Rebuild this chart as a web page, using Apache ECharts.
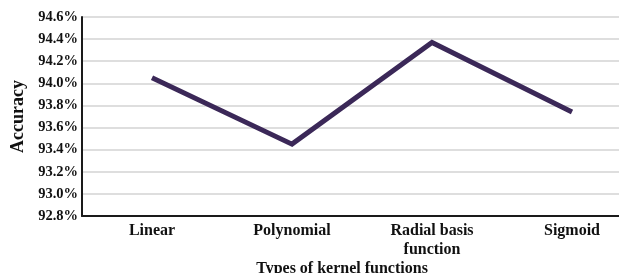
<!DOCTYPE html>
<html><head><meta charset="utf-8">
<script src="https://cdn.jsdelivr.net/npm/echarts@6/dist/echarts.min.js"></script>
<style>html,body{margin:0;padding:0;background:#fff;}#c{width:619px;height:273px;}</style>
</head><body><div id="c"></div>
<script>
var categories = ['Linear', 'Polynomial', 'Radial basis\nfunction', 'Sigmoid'];
var accuracy = [94.05, 93.45, 94.37, 93.74];
var yMin = 92.8, yMax = 94.6, yStep = 0.2;
var xTitle = 'Types of kernel functions';
var yTitle = 'Accuracy';

var font = '"Liberation Serif", "DejaVu Serif", serif';
var chart = echarts.init(document.getElementById('c'));
chart.setOption({
  animation: false,
  backgroundColor: '#fff',
  grid: {left: 82, right: -23, top: 17, bottom: 57, outerBoundsMode: 'none', containLabel: false},
  xAxis: {
    type: 'category', data: categories, boundaryGap: true,
    axisLine: {lineStyle: {color: '#1a1a1a', width: 2}},
    axisTick: {show: false},
    axisLabel: {color: '#111', fontFamily: font, fontWeight: 'bold', fontSize: 16, margin: 5, lineHeight: 19, interval: 0}
  },
  yAxis: {
    type: 'value', min: yMin, max: yMax, interval: yStep,
    name: yTitle, nameLocation: 'middle', nameGap: 55,
    nameTextStyle: {color: '#111', fontFamily: font, fontWeight: 'bold', fontSize: 18},
    axisLine: {show: true, lineStyle: {color: '#1a1a1a', width: 2}},
    axisTick: {show: false},
    axisLabel: {color: '#111', fontFamily: font, fontWeight: 'bold', fontSize: 14.5, margin: 4,
      formatter: function (v) { return v.toFixed(1) + '%'; }},
    splitLine: {lineStyle: {color: '#d3d3d3', width: 1.5}}
  },
  graphic: [{
    type: 'text', x: 342, y: 261,
    style: {text: xTitle, font: 'bold 16px ' + font, fill: '#111', textAlign: 'center', textVerticalAlign: 'top'}
  }],
  series: [{
    type: 'line', data: accuracy, symbol: 'none',
    lineStyle: {color: '#3b2858', width: 5, cap: 'butt', join: 'miter'}
  }]
});
</script></body></html>
